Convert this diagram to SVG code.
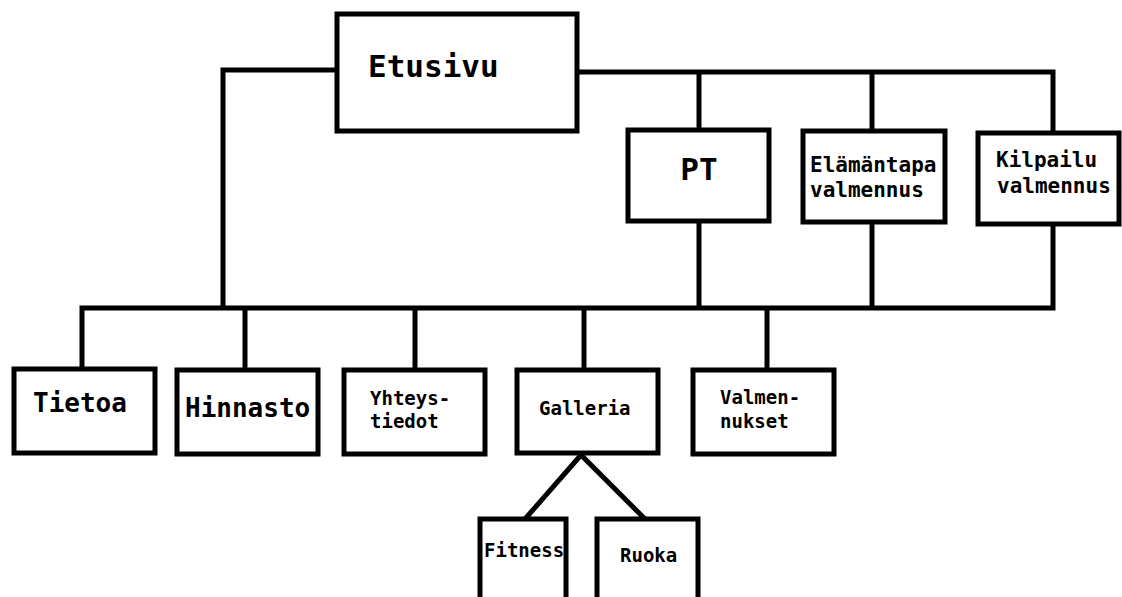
<svg xmlns="http://www.w3.org/2000/svg" width="1122" height="597" viewBox="0 0 1122 597">
<style>
.box{fill:#fff;stroke:#000;stroke-width:5}
.ln{fill:none;stroke:#000;stroke-width:5;stroke-linejoin:miter}
text{font-family:"DejaVu Sans Mono","Liberation Mono",monospace;font-weight:bold;fill:#000}
.xl{font-size:31px}
.l{font-size:26px}
.m{font-size:21px}
.s{font-size:19px}
</style>
<rect width="1122" height="597" fill="#fff"/>
<g id="connectors">
<path class="ln" d="M337,70 H223 V308"/>
<path class="ln" d="M577,72 H1053 V133"/>
<path class="ln" d="M699,72 V130"/>
<path class="ln" d="M872,72 V131"/>
<path class="ln" d="M82,369 V308 H1053 V224"/>
<path class="ln" d="M699,221 V308"/>
<path class="ln" d="M872,222 V308"/>
<path class="ln" d="M245,308 V370"/>
<path class="ln" d="M415,308 V370"/>
<path class="ln" d="M584,308 V370"/>
<path class="ln" d="M767,308 V370"/>
<path class="ln" d="M525,519 L581,455 L645,519"/>
</g>
<g id="etusivu"><rect class="box" x="337" y="14" width="240" height="117"/><text class="xl" x="368" y="77">Etusivu</text></g>
<g id="pt"><rect class="box" x="628" y="130" width="141" height="91"/><text class="xl" x="699" y="180" text-anchor="middle">PT</text></g>
<g id="elamantapa"><rect class="box" x="803" y="131" width="142" height="91"/><text class="m" x="810" y="172">Elämäntapa</text><text class="m" x="810" y="197">valmennus</text></g>
<g id="kilpailu"><rect class="box" x="978" y="133" width="141" height="91"/><text class="m" x="996" y="167">Kilpailu</text><text class="m" x="997" y="193">valmennus</text></g>
<g id="tietoa"><rect class="box" x="14" y="369" width="141" height="84"/><text class="l" x="33" y="412">Tietoa</text></g>
<g id="hinnasto"><rect class="box" x="177" y="370" width="141" height="84"/><text class="l" x="185" y="417">Hinnasto</text></g>
<g id="yhteystiedot"><rect class="box" x="344" y="370" width="141" height="84"/><text class="s" x="370" y="405">Yhteys-</text><text class="s" x="370" y="428">tiedot</text></g>
<g id="galleria"><rect class="box" x="517" y="370" width="141" height="83"/><text class="s" x="539" y="415">Galleria</text></g>
<g id="valmennukset"><rect class="box" x="693" y="370" width="141" height="84"/><text class="s" x="720" y="404">Valmen-</text><text class="s" x="720" y="428">nukset</text></g>
<g id="fitness"><rect class="box" x="480" y="519" width="86" height="90"/><text class="s" x="484" y="557">Fitness</text></g>
<g id="ruoka"><rect class="box" x="597" y="519" width="101" height="90"/><text class="s" x="620" y="562">Ruoka</text></g>
</svg>
